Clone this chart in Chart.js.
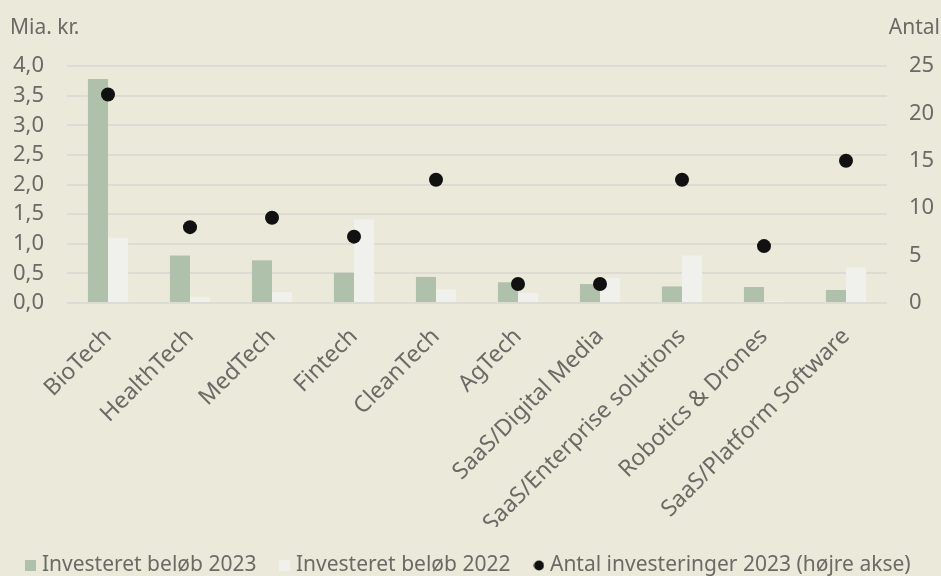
<!DOCTYPE html>
<html lang="da">
<head>
    <meta charset="UTF-8">
    <title>Investeringer pr. sektor</title>
    <script src="https://cdn.jsdelivr.net/npm/chart.js"></script>
    <style>
        html, body {
            margin: 0;
            padding: 0;
            background: #ebeada;
        }
        #wrap {
            width: 941px;
            height: 576px;
        }
    </style>
</head>
<body>

<div id="wrap">
    <canvas id="chart" width="941" height="576"></canvas>
</div>

<script>
    // sektorer
    const categories = ['BioTech', 'HealthTech', 'MedTech', 'Fintech', 'CleanTech', 'AgTech',
        'SaaS/Digital Media', 'SaaS/Enterprise solutions', 'Robotics & Drones', 'SaaS/Platform Software'];

    // investeret beløb, mia. kr.
    const amount2023 = [3.78, 0.80, 0.72, 0.51, 0.44, 0.35, 0.32, 0.28, 0.27, 0.22];
    const amount2022 = [1.10, 0.10, 0.18, 1.41, 0.23, 0.17, 0.42, 0.80, 0.03, 0.60];

    // antal investeringer (højre akse)
    const count2023 = [22, 8, 9, 7, 13, 2, 2, 13, 6, 15];

    const leftTicks = [0, 0.5, 1, 1.5, 2, 2.5, 3, 3.5, 4];
    const rightTicks = [0, 5, 10, 15, 20, 25];

    const textColor = '#6a6a66';
    const baseFont = "'Noto Sans', 'Open Sans', sans-serif";
    const green = '#afc1aa';
    const white = '#f0f1ec';
    const black = '#111111';

    // små legend-symboler
    function legendIcon(color, round) {
        const c = document.createElement('canvas');
        c.width = 11;
        c.height = 11;
        const g = c.getContext('2d');
        g.fillStyle = color;
        if (round) {
            g.beginPath();
            g.arc(5.5, 5.5, 5, 0, Math.PI * 2);
            g.fill();
        } else {
            g.fillRect(0, 0, 11, 11);
        }
        return c;
    }

    // akse-titler øverst
    const axisTitles = {
        id: 'axisTitles',
        afterDraw(chart) {
            const ctx = chart.ctx;
            ctx.save();
            ctx.fillStyle = textColor;
            ctx.font = '21px ' + baseFont;
            ctx.textBaseline = 'alphabetic';
            ctx.textAlign = 'left';
            ctx.fillText('Mia. kr.', 10, 34);
            ctx.textAlign = 'right';
            ctx.fillText('Antal', 940, 34);
            ctx.restore();
        }
    };

    const ctx = document.getElementById('chart').getContext('2d');
    new Chart(ctx, {
        data: {
            labels: categories,
            datasets: [
                {
                    type: 'line',
                    label: 'Antal investeringer 2023 (højre akse)',
                    data: count2023,
                    yAxisID: 'y1',
                    showLine: false,
                    pointRadius: 7,
                    pointHoverRadius: 7,
                    pointBackgroundColor: black,
                    pointBorderWidth: 0,
                    backgroundColor: black,
                    borderColor: black,
                    pointStyle: 'circle',
                    order: 0
                },
                {
                    type: 'bar',
                    label: 'Investeret beløb 2023',
                    data: amount2023,
                    yAxisID: 'y',
                    backgroundColor: green,
                    borderWidth: 0,
                    categoryPercentage: 0.49,
                    barPercentage: 1.0,
                    order: 1
                },
                {
                    type: 'bar',
                    label: 'Investeret beløb 2022',
                    data: amount2022,
                    yAxisID: 'y',
                    backgroundColor: white,
                    borderWidth: 0,
                    categoryPercentage: 0.49,
                    barPercentage: 1.0,
                    order: 2
                }
            ]
        },
        options: {
            responsive: false,
            animation: false,
            layout: {
                padding: { top: 66, left: 0, right: 0, bottom: -10 }
            },
            plugins: {
                tooltip: { enabled: false },
                legend: {
                    position: 'bottom',
                    labels: {
                        usePointStyle: true,
                        pointStyleWidth: 1,
                        boxWidth: 11,
                        boxHeight: 11,
                        padding: 28,
                        color: textColor,
                        font: { family: baseFont, size: 21 },
                        sort: (a, b) => {
                            const order = [1, 2, 0];
                            return order.indexOf(a.datasetIndex) - order.indexOf(b.datasetIndex);
                        },
                        generateLabels(chart) {
                            const items = Chart.defaults.plugins.legend.labels.generateLabels(chart);
                            const icons = [legendIcon(black, true), legendIcon(green, false), legendIcon(white, false)];
                            items.forEach(it => {
                                it.pointStyle = icons[it.datasetIndex];
                                it.lineWidth = 0;
                            });
                            return items;
                        }
                    }
                }
            },
            scales: {
                x: {
                    grid: { display: false, drawTicks: false },
                    border: { display: false },
                    afterFit(axis) {
                        axis.paddingLeft = 0;
                        axis.paddingRight = 0;
                        axis.height = 224;
                    },
                    ticks: {
                        color: textColor,
                        font: { family: baseFont, size: 23 },
                        minRotation: 45,
                        maxRotation: 45,
                        padding: 20,
                        autoSkip: false
                    }
                },
                y: {
                    position: 'left',
                    min: 0,
                    max: 4,
                    afterBuildTicks(axis) {
                        axis.ticks = leftTicks.map(v => ({ value: v }));
                    },
                    afterFit(axis) {
                        axis.width = 67;
                    },
                    grid: { color: '#dcdbd4', lineWidth: 2, drawTicks: false },
                    border: { display: false },
                    ticks: {
                        color: textColor,
                        font: { family: baseFont, size: 22 },
                        padding: 23,
                        autoSkip: false,
                        callback: v => v.toFixed(1).replace('.', ',')
                    }
                },
                y1: {
                    position: 'right',
                    min: 0,
                    max: 25,
                    afterBuildTicks(axis) {
                        axis.ticks = rightTicks.map(v => ({ value: v }));
                    },
                    afterFit(axis) {
                        axis.width = 54;
                    },
                    grid: { display: false, drawTicks: false },
                    border: { display: false },
                    ticks: {
                        color: textColor,
                        font: { family: baseFont, size: 22 },
                        padding: 22,
                        autoSkip: false
                    }
                }
            }
        },
        plugins: [axisTitles]
    });
</script>

</body>
</html>
